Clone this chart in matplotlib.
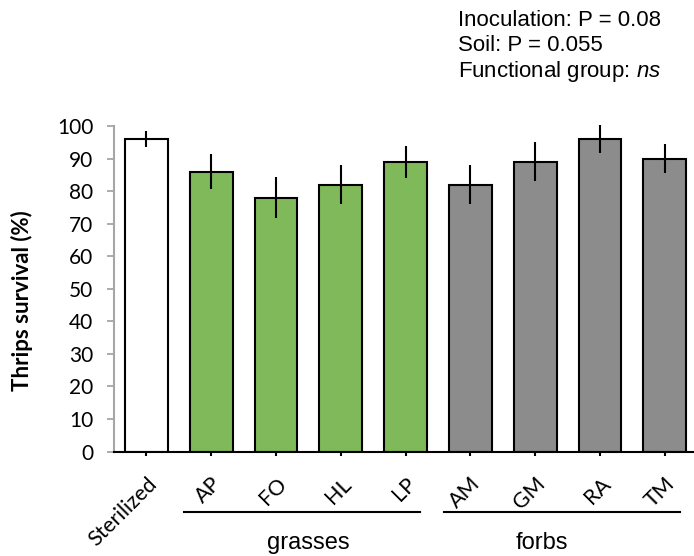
import matplotlib
matplotlib.use("Agg")
import matplotlib.pyplot as plt

# data
soils = ["Sterilized", "AP", "FO", "HL", "LP", "AM", "GM", "RA", "TM"]
survival = [96, 86, 78, 82, 89, 82, 89, 96, 90]
err = [2.6, 5.4, 6.4, 6.0, 5.0, 5.9, 6.0, 4.3, 4.5]
groups = ["grasses", "forbs"]
group_spans = [(0.58, 4.22), (4.59, 8.23)]
group_text_x = [2.5, 6.1]
stats = ["Inoculation: P = 0.08", "Soil: P = 0.055", r"Functional group: $\it{ns}$"]

plt.rcParams["mathtext.fontset"] = "custom"
plt.rcParams["mathtext.it"] = "Liberation Sans:italic"
plt.rcParams["mathtext.rm"] = "Liberation Sans"

colors = ["white"] + ["#80b95a"] * 4 + ["#8c8c8c"] * 4

fig = plt.figure(figsize=(6.94, 5.56), dpi=100)
ax = fig.add_axes([114 / 694, 1 - 451.5 / 556, 580 / 694, 325.5 / 556])

x = list(range(len(soils)))
ax.bar(x, survival, width=0.66, color=colors, edgecolor="black", linewidth=1.5, zorder=2)
ax.errorbar(x, survival, yerr=err, fmt="none", ecolor="black", elinewidth=1.5,
            capsize=0, zorder=3, clip_on=False)

ax.set_xlim(-0.5, 8.45)
ax.set_ylim(0, 100)
ax.set_yticks(range(0, 101, 10))
ax.set_xticks(x)
ax.set_xticklabels(soils, rotation=45, ha="right", va="top", rotation_mode="anchor",
                   fontfamily="Lato", fontsize=15.5)
for lab in ax.get_yticklabels():
    lab.set_fontfamily("Lato")
    lab.set_fontsize(15)

for s in ["top", "right"]:
    ax.spines[s].set_visible(False)
ax.spines["left"].set_color("#a6a6a6")
ax.spines["left"].set_linewidth(1.5)
ax.spines["bottom"].set_color("black")
ax.spines["bottom"].set_linewidth(1.5)
ax.tick_params(axis="y", direction="out", length=5, width=1.3, color="#a6a6a6", pad=10)
ax.tick_params(axis="x", direction="out", length=3, width=1.5, color="black", pad=13)

ax.set_ylabel("Thrips survival (%)", fontfamily="Lato", fontweight="bold", fontsize=16)
ax.yaxis.set_label_coords(-0.14, 0.465)

for name, (x0, x1), tx in zip(groups, group_spans, group_text_x):
    ax.plot([x0, x1], [-0.186, -0.186], color="black", lw=1.5,
            transform=ax.get_xaxis_transform(), clip_on=False)
    ax.text(tx, -0.30, name, transform=ax.get_xaxis_transform(), ha="center",
            va="baseline", fontfamily="Liberation Sans", fontsize=17)

for i, line in enumerate(stats):
    fig.text(458 / 694, 1 - (26 + 25.4 * i) / 556, line, ha="left", va="baseline",
             fontfamily="Liberation Sans", fontsize=16)

fig.savefig("out.png", dpi=100)
